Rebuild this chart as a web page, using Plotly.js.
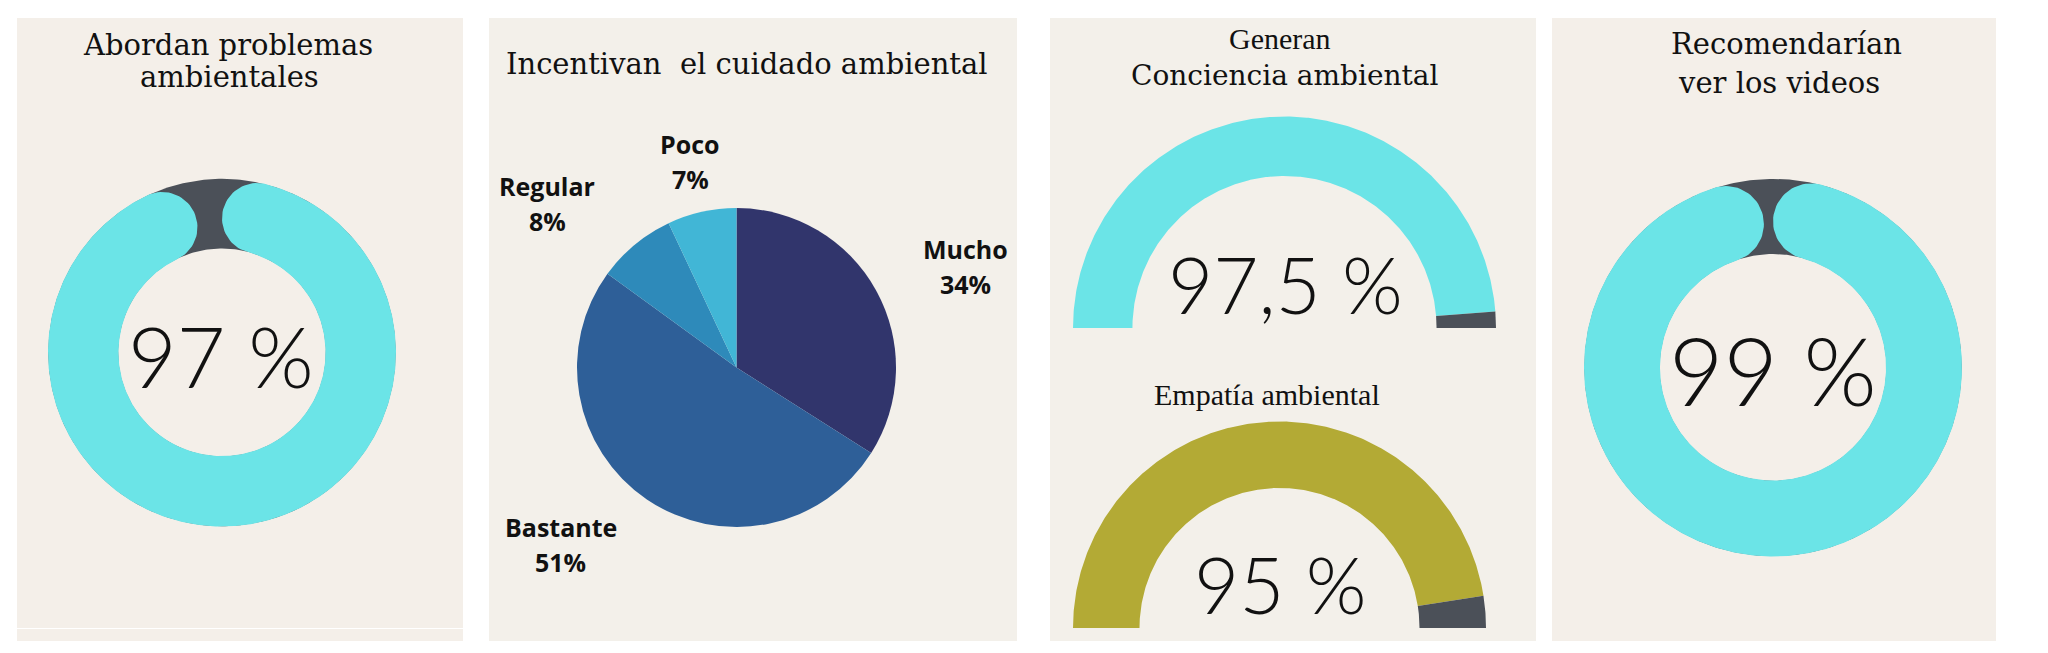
<!DOCTYPE html>
<html>
<head>
<meta charset="utf-8">
<script src="https://cdn.plot.ly/plotly-3.0.1.min.js"></script>
<style>html,body{margin:0;padding:0;background:#fff}#chart{width:2048px;height:653px}</style>
</head>
<body>
<div id="chart"></div>
<script>
// ---------------- DATA ----------------
const abordanTitle = ['Abordan problemas', 'ambientales'];
const abordanValue = 97;

const incentivanTitle = 'Incentivan\u00a0 el cuidado ambiental';
const pieLabels = ['Mucho', 'Bastante', 'Regular', 'Poco'];
const pieValues = [34, 51, 8, 7];

const concienciaTitle = ['Generan', 'Conciencia ambiental'];
const concienciaValue = 97.5;

const empatiaTitle = 'Empatía ambiental';
const empatiaValue = 95;

const recomiendanTitle = ['Recomendarían', 'ver los videos'];
const recomiendanValue = 99;

// ---------------- STYLE / GEOMETRY ----------------
const W = 2048, H = 653;
const BG1 = '#f4efe9', BG2 = '#f3f0ea';
const CYAN = '#6be4e7', DARK = '#4b5058', OLIVE = '#b3aa35';
const PIE_COLORS = ['#31356c', '#2e5f98', '#2e8aba', '#41b6d6'];
const SERIF = 'DejaVu Serif, serif';
const TIMES = 'Liberation Serif, serif';
const THIN = 'Lato, Open Sans, sans-serif';
const BOLD = 'Open Sans, sans-serif';

const px = x => x / W;
const py = y => 1 - y / H;

const fmtPct = v => String(v).replace('.', ',') + ' %';

function pt(r, deg) { const a = deg * Math.PI / 180; return [r * Math.sin(a), r * Math.cos(a)]; }
function arc(r, d0, d1, n) {
  const out = [];
  for (let i = 0; i <= n; i++) out.push(pt(r, d0 + (d1 - d0) * i / n));
  return out;
}
function capPts(c, u, t, rc, sign, n) {
  const out = [];
  for (let i = 0; i <= n; i++) {
    const f = Math.PI * i / n;
    out.push([c[0] + sign * rc * (u[0] * Math.cos(f) + t[0] * Math.sin(f)),
              c[1] + sign * rc * (u[1] * Math.cos(f) + t[1] * Math.sin(f))]);
  }
  return out;
}
function band(rIn, rOut, d0, d1) {
  const n = Math.max(8, Math.ceil(Math.abs(d1 - d0) * 2));
  return arc(rOut, d0, d1, n).concat(arc(rIn, d1, d0, n));
}
function roundBand(rIn, rOut, endDeg) {
  const rm = (rIn + rOut) / 2, rc = (rOut - rIn) / 2;
  const capDeg = Math.asin(rc / rm) * 180 / Math.PI;
  const a0 = capDeg, a1 = endDeg - capDeg;
  const n = Math.ceil((a1 - a0) * 2);
  const pts = arc(rOut, a0, a1, n);
  const r1 = a1 * Math.PI / 180, r0 = a0 * Math.PI / 180;
  const u1 = [Math.sin(r1), Math.cos(r1)], t1 = [Math.cos(r1), -Math.sin(r1)];
  const c1 = [rm * u1[0], rm * u1[1]];
  pts.push(...capPts(c1, u1, t1, rc, 1, 40));
  pts.push(...arc(rIn, a1, a0, n));
  const u0 = [Math.sin(r0), Math.cos(r0)], t0 = [Math.cos(r0), -Math.sin(r0)];
  const c0 = [rm * u0[0], rm * u0[1]];
  pts.push(...capPts(c0, u0, t0, rc, -1, 40));
  return pts;
}

const traces = [];
const layout = {
  width: W, height: H,
  margin: {l: 0, r: 0, t: 0, b: 0},
  paper_bgcolor: '#ffffff',
  plot_bgcolor: 'rgba(0,0,0,0)',
  showlegend: false,
  shapes: [], annotations: []
};

function addPoly(pts, color, k) {
  const id = k === 1 ? '' : String(k);
  traces.push({
    type: 'scatter', mode: 'lines',
    x: pts.map(p => p[0]), y: pts.map(p => p[1]),
    fill: 'toself', fillcolor: color,
    line: {width: 0, color: 'rgba(0,0,0,0)'},
    hoverinfo: 'skip', showlegend: false,
    xaxis: 'x' + id, yaxis: 'y' + id
  });
}
function addAxes(k, g, xr, yr) {
  const id = k === 1 ? '' : String(k);
  const common = {visible: false, showgrid: false, zeroline: false, fixedrange: true};
  layout['xaxis' + id] = Object.assign({}, common, {
    range: xr, domain: [px(g.cx + xr[0] * g.R), px(g.cx + xr[1] * g.R)], anchor: 'y' + id
  });
  layout['yaxis' + id] = Object.assign({}, common, {
    range: yr, domain: [py(g.cy - yr[0] * g.R), py(g.cy - yr[1] * g.R)], anchor: 'x' + id
  });
}
function donut(k, g, value, bg) {
  addAxes(k, g, [-1.05, 1.05], [-1.05, 1.05]);
  addPoly(arc(0.998, 0, 360, 360), DARK, k);
  addPoly(arc(g.hole * 1.004, 0, 360, 360), bg, k);
  addPoly(roundBand(g.hole, 1, 360 * value / 100), CYAN, k);
}
function gauge(k, g, value, color) {
  addAxes(k, g, [-1.05, 1.05], [-0.04, 1.05]);
  const split = -90 + 180 * value / 100;
  addPoly(band(g.hole, 1, -90, split), color, k);
  addPoly(band(g.hole, 1, split, 90), DARK, k);
}
function text(t, x, y, font, anchor) {
  layout.annotations.push({
    text: t, xref: 'paper', yref: 'paper', x: px(x), y: py(y),
    xanchor: anchor || 'center', yanchor: 'middle', showarrow: false, font: font
  });
}

// panels
const panels = [[17, 18, 463, 641, BG1], [489, 18, 1017, 641, BG2], [1050, 18, 1536, 641, BG2], [1552, 18, 1996, 641, BG1]];
panels.forEach(p => layout.shapes.push({
  type: 'rect', xref: 'paper', yref: 'paper', layer: 'below',
  x0: px(p[0]), x1: px(p[2]), y0: py(p[3]), y1: py(p[1]),
  fillcolor: p[4], line: {width: 0}
}));
layout.shapes.push({type: 'line', xref: 'paper', yref: 'paper', layer: 'below',
  x0: px(17), x1: px(463), y0: py(628.5), y1: py(628.5), line: {color: '#ffffff', width: 1}});

// Panel 1 : donut
const gA = {cx: 222, cy: 352.5, R: 174, hole: 0.595};
donut(1, gA, abordanValue, BG1);
text(abordanTitle[0], 228, 45, {family: SERIF, size: 29, color: '#111'});
text(abordanTitle[1], 229, 77, {family: SERIF, size: 29, color: '#111'});
text(fmtPct(abordanValue), 221, 355, {family: THIN, size: 84, color: '#111', weight: 300});

// Panel 2 : pie
const gP = {cx: 736.5, cy: 367.5, R: 159.5};
traces.push({
  type: 'pie', labels: pieLabels, values: pieValues, sort: false,
  direction: 'clockwise', rotation: 0, textinfo: 'none', hoverinfo: 'skip',
  marker: {colors: PIE_COLORS, line: {width: 0}},
  domain: {x: [px(gP.cx - gP.R), px(gP.cx + gP.R)], y: [py(gP.cy + gP.R), py(gP.cy - gP.R)]},
  showlegend: false
});
text(incentivanTitle, 747, 64, {family: SERIF, size: 29, color: '#111'});
const pieLabelPos = [[965.5, 249], [560.5, 527], [547, 186], [690, 144]];
const boldFont = {family: BOLD, size: 25, color: '#111', weight: 700};
pieLabels.forEach((lab, i) => {
  const p = pieLabelPos[i];
  text(lab, p[0], p[1], boldFont);
  text(pieValues[i] + '%', p[0], p[1] + 35, boldFont);
});

// Panel 3 : gauges
const gB = {cx: 1284.5, cy: 328, R: 211.5, hole: 0.719};
const gC = {cx: 1279.5, cy: 628, R: 206.5, hole: 0.678};
gauge(2, gB, concienciaValue, CYAN);
gauge(3, gC, empatiaValue, OLIVE);
text(concienciaTitle[0], 1280, 39, {family: TIMES, size: 30, color: '#111'});
text(concienciaTitle[1], 1284, 75, {family: SERIF, size: 28, color: '#111'});
text(empatiaTitle, 1267, 394, {family: TIMES, size: 30, color: '#111'});
text(fmtPct(concienciaValue), 1285, 284, {family: THIN, size: 78, color: '#111', weight: 300});
text(fmtPct(empatiaValue), 1280, 584, {family: THIN, size: 78, color: '#111', weight: 300});

// Panel 4 : donut
const gD = {cx: 1773, cy: 367.5, R: 189, hole: 0.598};
donut(4, gD, recomiendanValue, BG1);
text(recomiendanTitle[0], 1786, 44, {family: SERIF, size: 29, color: '#111'});
text(recomiendanTitle[1], 1779, 83, {family: SERIF, size: 29, color: '#111'});
text(fmtPct(recomiendanValue), 1772.5, 369, {family: THIN, size: 94, color: '#111', weight: 300});

Plotly.newPlot('chart', traces, layout, {displayModeBar: false, staticPlot: true});
</script>
</body>
</html>
